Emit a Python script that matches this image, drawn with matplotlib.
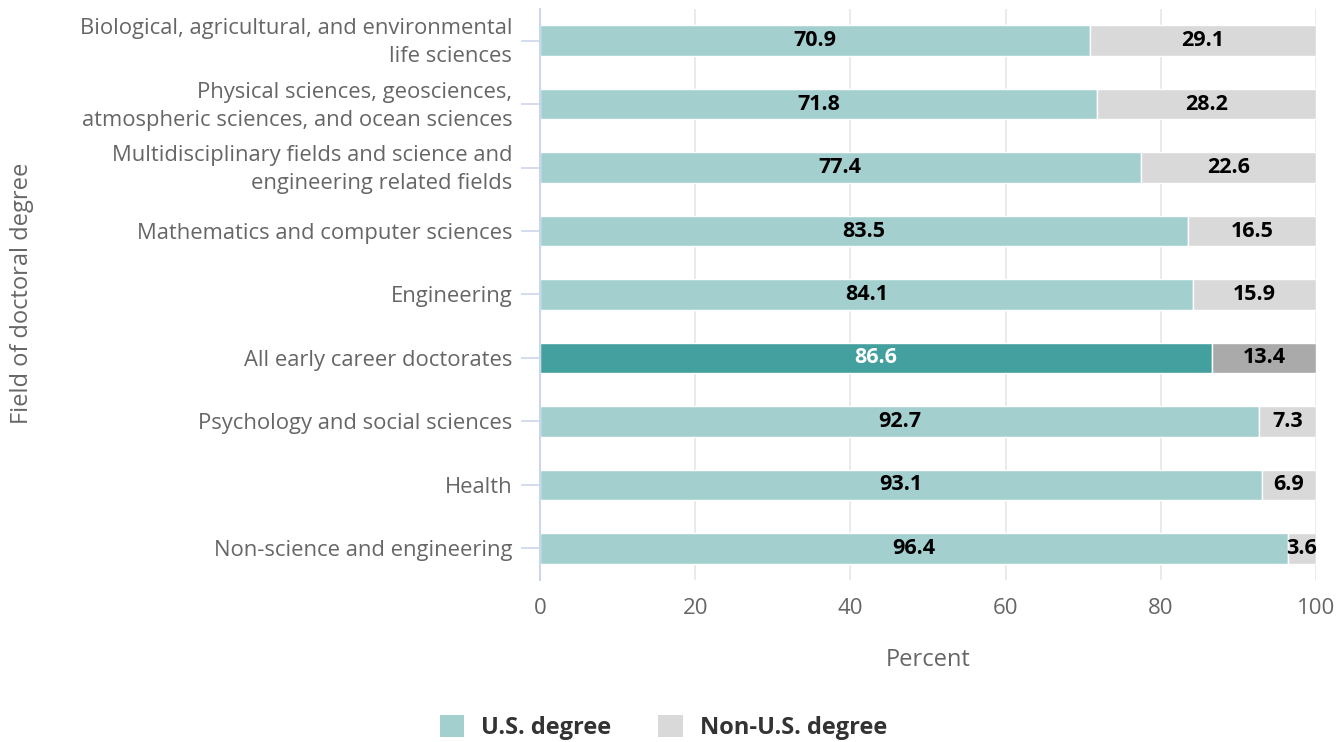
import matplotlib.pyplot as plt
import matplotlib.transforms as mtransforms
from matplotlib.patches import Patch

categories = [
    "Biological, agricultural, and environmental\nlife sciences",
    "Physical sciences, geosciences,\natmospheric sciences, and ocean sciences",
    "Multidisciplinary fields and science and\nengineering related fields",
    "Mathematics and computer sciences",
    "Engineering",
    "All early career doctorates",
    "Psychology and social sciences",
    "Health",
    "Non-science and engineering",
]
us_degree = [70.9, 71.8, 77.4, 83.5, 84.1, 86.6, 92.7, 93.1, 96.4]
non_us_degree = [29.1, 28.2, 22.6, 16.5, 15.9, 13.4, 7.3, 6.9, 3.6]
highlight = "All early career doctorates"

plt.rcParams['font.family'] = ['Open Sans', 'DejaVu Sans']

fig = plt.figure(figsize=(13.4, 7.42), dpi=100)
ax = fig.add_axes([0.403, 0.2183, 0.579, 0.7696])

ypos = list(range(len(categories)))
us_colors = ['#449f9f' if c == highlight else '#a3cfcf' for c in categories]
non_colors = ['#aaaaaa' if c == highlight else '#d9d9d9' for c in categories]

ax.barh(ypos, us_degree, height=0.48, color=us_colors, edgecolor='white', linewidth=1, zorder=3)
ax.barh(ypos, non_us_degree, left=us_degree, height=0.48, color=non_colors,
        edgecolor='white', linewidth=1, zorder=3)

for i, c in enumerate(categories):
    us_txt = 'white' if c == highlight else 'black'
    ax.text(us_degree[i] / 2, i, f"{us_degree[i]:.1f}", ha='center', va='center',
            fontsize=15.5, fontweight='bold', color=us_txt, zorder=4)
    ax.text(us_degree[i] + non_us_degree[i] / 2, i, f"{non_us_degree[i]:.1f}", ha='center',
            va='center', fontsize=15.5, fontweight='bold', color='black', zorder=4)

ax.set_xlim(0, 100)
ax.set_ylim(len(categories) - 0.5, -0.5)
ax.set_xticks([0, 20, 40, 60, 80, 100])
ax.set_yticks(ypos)
ax.set_yticklabels(categories, fontsize=15.8, color='#666666', linespacing=1.45)
ax.tick_params(axis='y', length=14, width=1.2, color='#ccd6eb', pad=6)
ax.tick_params(axis='x', length=0, labelsize=16, labelcolor='#666666', pad=13)

# nudge two-line labels up a little
shift = mtransforms.ScaledTranslation(0, 4 / 100, fig.dpi_scale_trans)
for lbl in ax.get_yticklabels():
    if '\n' in lbl.get_text():
        lbl.set_transform(lbl.get_transform() + shift)

ax.grid(axis='x', color='#e6e6e6', linewidth=1.2, zorder=0)
for s in ['top', 'right', 'bottom']:
    ax.spines[s].set_visible(False)
ax.spines['left'].set_color('#ccd6eb')
ax.spines['left'].set_linewidth(1.5)
ax.spines['left'].set_zorder(5)

ax.set_xlabel('Percent', fontsize=17, color='#666666', labelpad=21)
fig.text(0.0165, 0.605, 'Field of doctoral degree', rotation=90, ha='center', va='center',
         fontsize=17, color='#666666')

handles = [Patch(facecolor='#a3cfcf', label='U.S. degree'),
           Patch(facecolor='#d9d9d9', label='Non-U.S. degree')]
leg = fig.legend(handles=handles, loc='center', bbox_to_anchor=(0.495, 0.019), ncol=2,
                 frameon=False, prop={'size': 17, 'weight': 'bold'}, handlelength=1.05,
                 handleheight=1.05, columnspacing=2.0, handletextpad=0.7)
for t in leg.get_texts():
    t.set_color('#333333')

fig.savefig('out.png', dpi=100)
